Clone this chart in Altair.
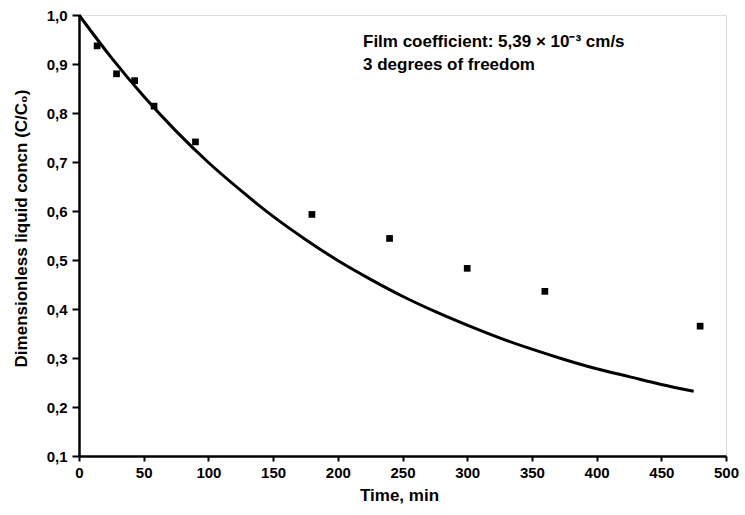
import altair as alt
import pandas as pd

# Observed data points (time in min, dimensionless concentration)
t_obs = [14, 29, 43, 58, 90, 180, 240, 300, 360, 480]
c_obs = [0.937, 0.880, 0.866, 0.814, 0.741, 0.593, 0.544, 0.483, 0.436, 0.365]

# Model curve
t_fit = [0, 25, 50, 75, 100, 125, 150, 175, 200, 225, 250, 275, 300, 325, 350, 375, 400, 425, 450, 475]
c_fit = [1.000, 0.913, 0.834, 0.763, 0.699, 0.642, 0.589, 0.542, 0.499, 0.461, 0.426, 0.395,
         0.367, 0.341, 0.318, 0.297, 0.278, 0.262, 0.246, 0.232]

x_ticks = [0, 50, 100, 150, 200, 250, 300, 350, 400, 450, 500]
y_ticks = [0.1, 0.2, 0.3, 0.4, 0.5, 0.6, 0.7, 0.8, 0.9, 1.0]

annotation = ["Film coefficient: 5,39  \u00d7  10\u207b\u00b3 cm/s", "3 degrees of freedom"]

obs = pd.DataFrame({"t": t_obs, "c": c_obs})
fit = pd.DataFrame({"t": t_fit, "c": c_fit})

FONT = "Liberation Sans"

xscale = alt.Scale(domain=[0, 500], nice=False, zero=False)
yscale = alt.Scale(domain=[0.1, 1.0], nice=False, zero=False)

xaxis = alt.Axis(
    values=x_ticks, title="Time, min", grid=False,
    labelFont=FONT, labelFontSize=15, labelFontWeight="bold", labelColor="black",
    titleFont=FONT, titleFontSize=17, titleFontWeight="bold", titleColor="black",
    tickSize=5, tickWidth=2, tickColor="black", labelPadding=4,
    domainColor="black", domainWidth=2.5,
    titleX=320, titleY=44, titleBaseline="alphabetic", titleAnchor="middle",
    labelFlush=False,
)
yaxis = alt.Axis(
    values=y_ticks, title="Dimensionless liquid concn (C/C\u2080)", grid=False,
    labelExpr="replace(format(datum.value, '.1f'), '.', ',')",
    labelFont=FONT, labelFontSize=15, labelFontWeight="bold", labelColor="black",
    titleFont=FONT, titleFontSize=17, titleFontWeight="bold", titleColor="black",
    tickSize=7, tickWidth=2, tickColor="black", labelPadding=5,
    domainColor="black", domainWidth=2.5,
    titleX=-58, titleY=213, titleAngle=-90, titleAlign="center", titleBaseline="middle",
    labelFlush=False,
)

line = alt.Chart(fit).mark_line(color="black", strokeWidth=3, interpolate="monotone").encode(
    x=alt.X("t:Q", scale=xscale, axis=xaxis),
    y=alt.Y("c:Q", scale=yscale, axis=yaxis),
)

points = alt.Chart(obs).mark_square(color="black", size=45, opacity=1).encode(
    x=alt.X("t:Q", scale=xscale),
    y=alt.Y("c:Q", scale=yscale),
)

note = alt.Chart(pd.DataFrame({"a": [0]})).mark_text(
    align="left", baseline="alphabetic", font=FONT, fontSize=17, fontWeight="bold",
    color="black", lineHeight=23,
).encode(
    x=alt.value(284), y=alt.value(32), text=alt.value(annotation)
)

chart = alt.layer(line, points, note).properties(
    width=647, height=441,
    autosize=alt.AutoSizeParams(type="none"),
    padding={"left": 79, "top": 15, "right": 19, "bottom": 59},
).configure_view(
    stroke="black", strokeWidth=2
).configure(background="white")

chart.save("out.html", embed_options={"renderer": "svg", "actions": False})
